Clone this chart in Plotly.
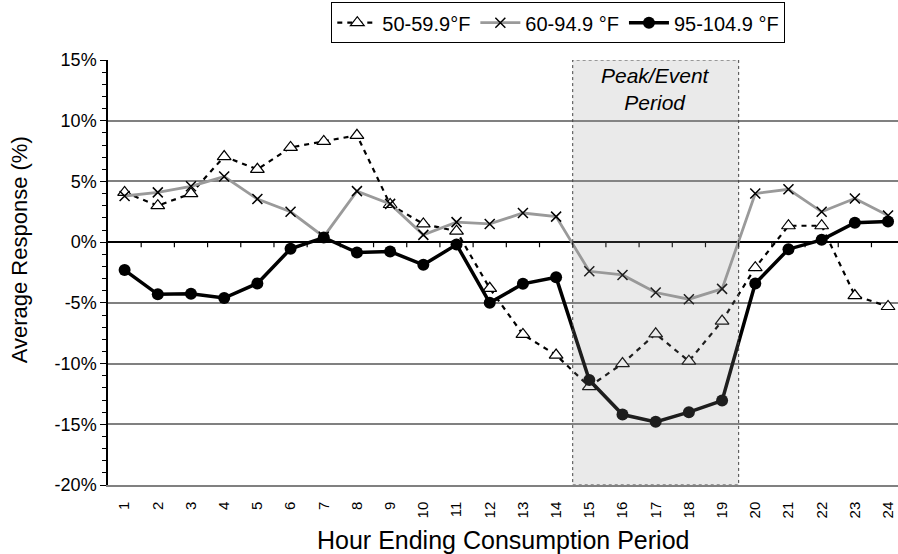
import plotly.graph_objects as go

hours = list(range(1, 25))
hour_labels = [str(h) for h in hours]

y_tick_vals = [15, 10, 5, 0, -5, -10, -15, -20]
y_tick_labels = ["15%", "10%", "5%", "0%", "-5%", "-10%", "-15%", "-20%"]

temp_50_59 = [4.1, 3.0, 4.0, 7.05, 6.0, 7.8, 8.3, 8.8, 3.1, 1.5, 0.9, -3.8,
              -7.6, -9.3, -11.9, -10.0, -7.55, -9.8, -6.5, -2.1, 1.35, 1.35, -4.4, -5.3]
temp_60_94 = [3.8, 4.1, 4.6, 5.4, 3.55, 2.5, 0.45, 4.2, 3.15, 0.6, 1.65, 1.5,
              2.4, 2.1, -2.4, -2.7, -4.15, -4.7, -3.85, 4.0, 4.35, 2.5, 3.6, 2.2]
temp_95_104 = [-2.3, -4.3, -4.25, -4.6, -3.4, -0.55, 0.38, -0.86, -0.77, -1.87, -0.2, -5.0,
               -3.43, -2.9, -11.35, -14.2, -14.8, -14.0, -13.05, -3.4, -0.58, 0.19, 1.6, 1.7]

series_names = ["50-59.9°F", "60-94.9 °F", "95-104.9 °F"]
peak_start, peak_end = 15, 19
y_min, y_max = -20, 15

FONT = "Liberation Sans, Arial, sans-serif"

fig = go.Figure()

fig.add_trace(go.Scatter(
    x=hours, y=temp_50_59, name=series_names[0], mode="lines+markers",
    line=dict(color="black", width=2.2, dash="5px,5px"),
    marker=dict(symbol="triangle-up", size=12, color="white",
                line=dict(color="black", width=1.2)),
))
fig.add_trace(go.Scatter(
    x=hours, y=temp_60_94, name=series_names[1], mode="lines+markers",
    line=dict(color="#9a9a9a", width=2.8),
    marker=dict(symbol="x-thin-open", size=10, color="black",
                line=dict(color="black", width=1.5)),
))
fig.add_trace(go.Scatter(
    x=hours, y=temp_95_104, name=series_names[2], mode="lines+markers",
    line=dict(color="black", width=3.5),
    marker=dict(symbol="circle", size=12, color="black"),
))

# category tick marks on the zero line (between categories)
mids = [h + 0.5 for h in hours[:-1]]
fig.add_trace(go.Scatter(
    x=mids, y=[0] * len(mids), mode="markers", showlegend=False, hoverinfo="skip",
    marker=dict(size=0.1, color="rgba(0,0,0,0)"),
    error_y=dict(type="data", symmetric=False, array=[0] * len(mids),
                 arrayminus=[0.42] * len(mids), width=0, color="black", thickness=1.2),
))

fig.add_shape(type="rect", xref="x", yref="y",
              x0=peak_start - 0.5, x1=peak_end + 0.5, y0=y_min, y1=y_max,
              fillcolor="rgba(150,150,150,0.2)", layer="above",
              line=dict(color="#444", width=1, dash="dot"))

fig.add_annotation(x=(peak_start + peak_end) / 2, y=y_max, xref="x", yref="y",
                   text="<i>Peak/Event<br>Period</i>", showarrow=False,
                   yanchor="top", yshift=-2,
                   font=dict(family=FONT, size=21, color="black"))

fig.add_annotation(x=-0.111, y=0.553, xref="paper", yref="paper",
                   text="Average Response (%)", textangle=-90, showarrow=False,
                   xanchor="center", yanchor="middle",
                   font=dict(family=FONT, size=22, color="black"))

fig.add_annotation(x=0.5, y=-0.129, xref="paper", yref="paper",
                   text="Hour Ending Consumption Period", showarrow=False,
                   xanchor="center", yanchor="middle",
                   font=dict(family=FONT, size=25, color="black"))

fig.update_layout(
    width=898, height=554,
    margin=dict(l=108, r=0, t=60, b=69, autoexpand=False),
    paper_bgcolor="white", plot_bgcolor="white",
    font=dict(family=FONT, color="black"),
    legend=dict(orientation="h", x=0.57, xanchor="center", y=1.136, yanchor="top",
                bordercolor="black", borderwidth=1, bgcolor="white",
                font=dict(family=FONT, size=20), itemwidth=40, tracegroupgap=0),
    showlegend=True,
)

fig.update_xaxes(
    range=[0.5, 24.3], tickmode="array", tickvals=hours, ticktext=hour_labels,
    tickangle=-90, tickfont=dict(size=15), showgrid=False, zeroline=False,
    showline=True, linecolor="#808080", linewidth=1.5, ticks="",
    ticklabeloverflow="allow", ticklabelstandoff=9, automargin=False,
)

fig.update_yaxes(
    range=[y_min, y_max], tickmode="array", tickvals=y_tick_vals, ticktext=y_tick_labels,
    tickfont=dict(size=18), showgrid=True, gridcolor="#808080", gridwidth=1.5,
    zeroline=True, zerolinecolor="black", zerolinewidth=1.5,
    showline=True, linecolor="black", linewidth=1.5,
    ticks="outside", ticklen=6, tickcolor="black", tickwidth=1.2,
    minor=dict(dtick=1, tick0=0, ticks="outside", ticklen=4, tickcolor="black", showgrid=False),
    automargin=False,
)

fig.write_html(
    "out.html",
    config={"displayModeBar": False},
    post_script="document.body.style.margin='0';document.body.style.overflow='hidden';",
)
